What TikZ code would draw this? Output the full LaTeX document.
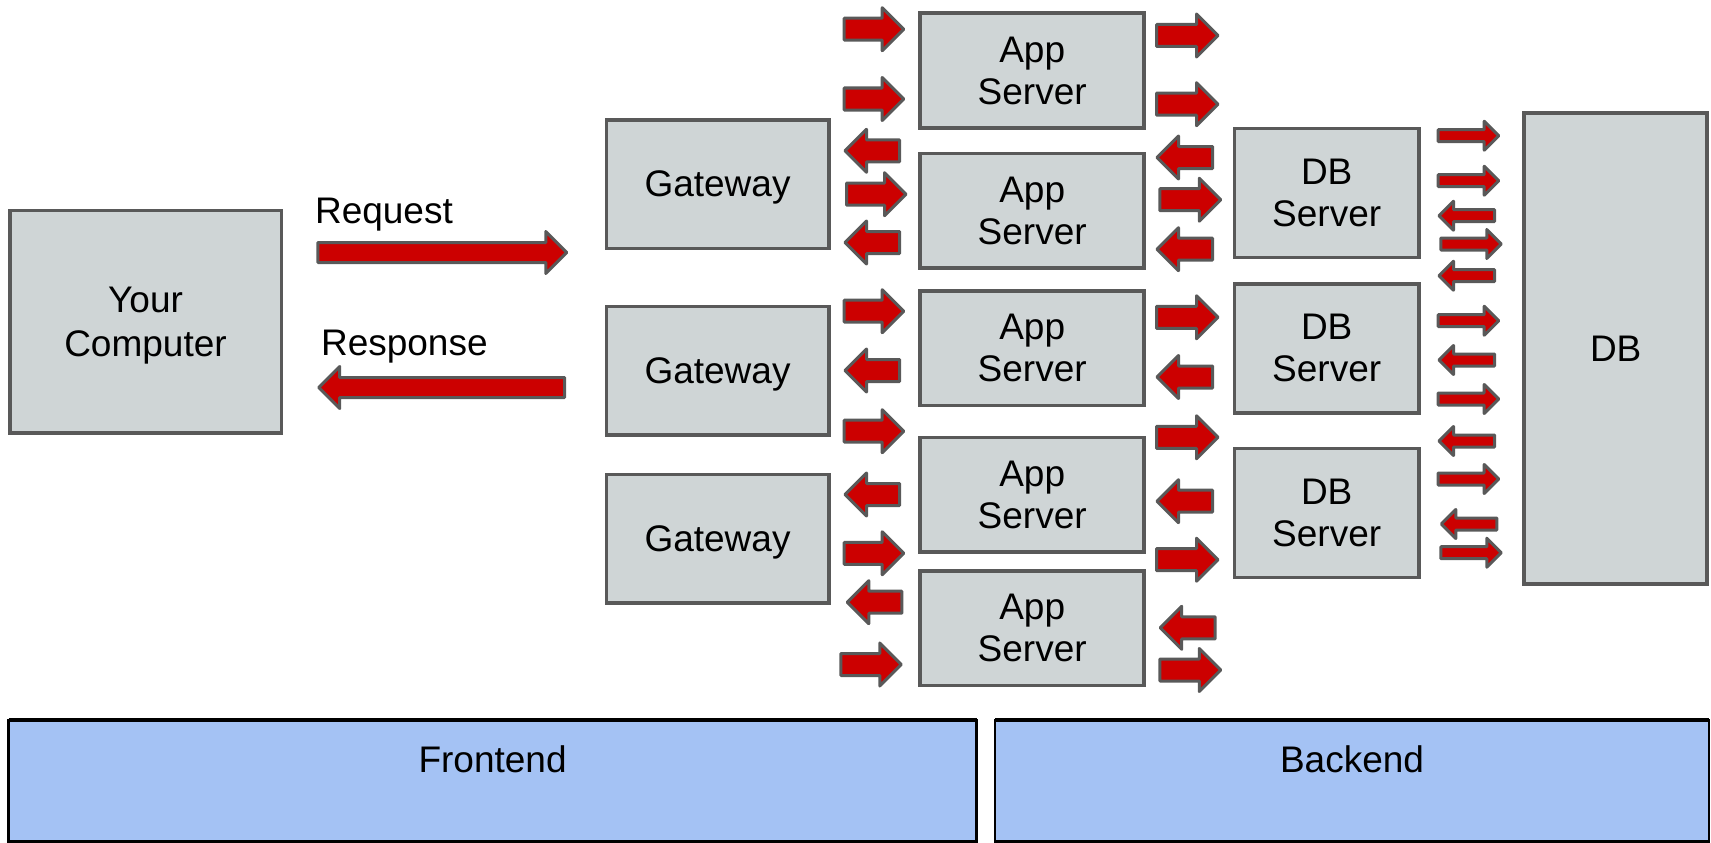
\documentclass[tikz,border=0pt]{standalone}
\usepackage{fontspec}
\setmainfont{Liberation Sans}

\definecolor{boxfill}{HTML}{CFD5D6}
\definecolor{edgegray}{HTML}{595959}
\definecolor{flowred}{HTML}{CC0000}
\definecolor{tierblue}{HTML}{A4C2F4}

\tikzset{
  txt/.style={font=\fontsize{37}{42}\selectfont},
  box/.style={txt, draw=edgegray, fill=boxfill, line width=3.5pt,
    inner sep=0pt, outer sep=0pt, align=center},
  tier/.style={draw=black, fill=tierblue, line width=2.5pt},
  arrowpaint/.style={draw=edgegray, fill=flowred, line width=3pt, line join=round},
  % block arrows: tail at the origin, tip at (#1,0); xscale=-1 points them left
  bigarrow/.pic={\path[arrowpaint] (0,-10) -- ({#1-21},-10) -- ({#1-21},-21) -- (#1,0)
      -- ({#1-21},21) -- ({#1-21},10) -- (0,10) -- cycle;},
  midarrow/.pic={\path[arrowpaint] (0,-11) -- ({#1-21.5},-11) -- ({#1-21.5},-21.5) -- (#1,0)
      -- ({#1-21.5},21.5) -- ({#1-21.5},11) -- (0,11) -- cycle;},
  smallarrow/.pic={\path[arrowpaint] (0,-6) -- ({#1-14.5},-6) -- ({#1-14.5},-14.5) -- (#1,0)
      -- ({#1-14.5},14.5) -- ({#1-14.5},6) -- (0,6) -- cycle;},
  pointleft/.style={xscale=-1},
}

\begin{document}
\begin{tikzpicture}[x=1pt, y=-1pt]
\useasboundingbox (0,0) rectangle (1711,843);

% client
\node[box, font=\fontsize{37}{44}\selectfont, minimum width=271.5pt, minimum height=222.5pt,
  text depth=0pt] (you) at (145.5,321.5) {Your\\Computer};
\node[txt, anchor=base west] (reqlabel) at (311.5,223) {Request};
\node[txt, anchor=base west] (resplabel) at (317.5,355.5) {Response};
\pic (request) at (317.8,252.5) {bigarrow=249};
\pic[pointleft] (response) at (564.7,387.5) {bigarrow=246};

% gateways
\foreach \n/\y in {1/184, 2/370.5, 3/538.5}
  \node[box, minimum width=222.5pt, minimum height=128.5pt, text depth=0pt] (gw\n) at (717.5,\y) {Gateway};

% application servers
\foreach \n/\y in {1/70.5, 2/210.8, 3/348, 4/494.8, 5/628.2}
  \node[box, minimum width=224pt, minimum height=114.5pt] (app\n) at (1032.2,\y) {App\\Server};

% database servers and database
\foreach \n/\y in {1/193, 2/348.3, 3/513}
  \node[box, minimum width=184.5pt, minimum height=129pt] (dbs\n) at (1326.7,\y) {DB\\Server};
\node[box, minimum width=183pt, minimum height=471pt] (db) at (1615.7,348.3) {DB};

% gateway <-> app server traffic
\pic (ga1) at (844.2,29.2) {midarrow=59.5};
\pic (ga2) at (844.2,99) {midarrow=59.5};
\pic[pointleft] (ga3) at (899.5,150.8) {midarrow=54.5};
\pic (ga4) at (846.5,194.2) {midarrow=59.5};
\pic[pointleft] (ga5) at (899.5,242.5) {midarrow=54.5};
\pic (ga6) at (844.2,311.2) {midarrow=59.5};
\pic[pointleft] (ga7) at (899.5,370.5) {midarrow=54.5};
\pic (ga8) at (844.2,431.2) {midarrow=59.5};
\pic[pointleft] (ga9) at (899.5,494.5) {midarrow=54.5};
\pic (ga10) at (844.2,553.3) {midarrow=59.5};
\pic[pointleft] (ga11) at (901.8,602.2) {midarrow=54.5};
\pic (ga12) at (840.8,664.5) {midarrow=60.5};

% app server <-> database server traffic
\pic (ad1) at (1156.5,35.5) {midarrow=61.5};
\pic (ad2) at (1156.5,104.2) {midarrow=61.5};
\pic[pointleft] (ad3) at (1212.5,157.5) {midarrow=55.5};
\pic (ad4) at (1159.8,199.7) {midarrow=61};
\pic[pointleft] (ad5) at (1212.5,249.2) {midarrow=55.5};
\pic (ad6) at (1156.5,317.3) {midarrow=61.5};
\pic[pointleft] (ad7) at (1212.5,377) {midarrow=55.5};
\pic (ad8) at (1156.5,437.3) {midarrow=61.5};
\pic[pointleft] (ad9) at (1212.5,501.2) {midarrow=55.5};
\pic (ad10) at (1156.5,559.7) {midarrow=61.5};
\pic[pointleft] (ad11) at (1215.2,627.8) {midarrow=55};
\pic (ad12) at (1159.8,670) {midarrow=61};

% database server <-> database traffic
\pic (dd1) at (1438.2,135.7) {smallarrow=60.5};
\pic (dd2) at (1438.2,180.7) {smallarrow=60.5};
\pic[pointleft] (dd3) at (1494.5,215.7) {smallarrow=55.5};
\pic (dd4) at (1440.8,244) {smallarrow=60.5};
\pic[pointleft] (dd5) at (1494.5,275.7) {smallarrow=55.5};
\pic (dd6) at (1438.2,320.7) {smallarrow=60.5};
\pic[pointleft] (dd7) at (1494.5,360) {smallarrow=55.5};
\pic (dd8) at (1438.2,399) {smallarrow=60.5};
\pic[pointleft] (dd9) at (1494.5,441) {smallarrow=55.5};
\pic (dd10) at (1438.2,479) {smallarrow=60.5};
\pic[pointleft] (dd11) at (1496.8,524) {smallarrow=55.5};
\pic (dd12) at (1440.8,552.7) {smallarrow=60.5};

% tiers
\draw[tier] (8.7,720) rectangle (976.6,841.7);
\draw[tier] (995.2,720) rectangle (1708.8,841.7);
\draw[black, line width=4pt] (8.7,720) -- (976.6,720);
\draw[black, line width=4pt] (995.2,720) -- (1708.8,720);
\node[txt, anchor=base] (frontend) at (492.6,772.7) {Frontend};
\node[txt, anchor=base] (backend) at (1352,772.7) {Backend};
\end{tikzpicture}
\end{document}
